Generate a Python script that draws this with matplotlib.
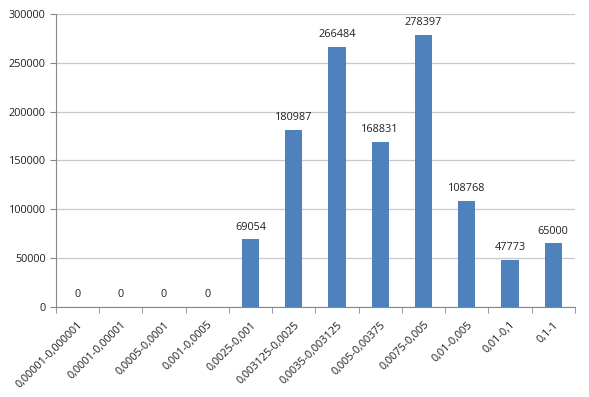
import matplotlib.pyplot as plt
import numpy as np

categories = ['0,00001-0,000001', '0,0001-0,00001', '0,0005-0,0001', '0,001-0,0005',
              '0,0025-0,001', '0,003125-0,0025', '0,0035-0,003125', '0,005-0,00375',
              '0,0075-0,005', '0,01-0,005', '0,01-0,1', '0,1-1']
values = [0, 0, 0, 0, 69054, 180987, 266484, 168831, 278397, 108768, 47773, 65000]

plt.rcParams['font.family'] = ['Open Sans', 'DejaVu Sans']

fig = plt.figure(figsize=(5.89, 3.97), dpi=100)
ax = fig.add_axes([0.095, 0.227, 0.881, 0.738])

x = np.arange(len(categories))
ax.bar(x, values, width=0.4, color='#4F81BD', zorder=3)
for xi, v in zip(x, values):
    ax.text(xi, v + 7000, str(v), ha='center', va='bottom', fontsize=7.8, color='#202020')

ax.set_xlim(-0.5, len(categories) - 0.5)
ax.set_ylim(0, 300000)
ax.set_yticks(range(0, 300001, 50000))
ax.yaxis.grid(True, color='#C8C8C8', linewidth=0.9, zorder=0)
ax.tick_params(axis='y', labelsize=7.8, colors='#868686', labelcolor='#202020', length=4)

ax.set_xticks(x)
ax.set_xticklabels(categories, rotation=45, ha='right', rotation_mode='anchor', fontsize=7.8, color='#202020')
ax.tick_params(axis='x', which='major', length=0, pad=9)
ax.set_xticks(np.arange(-0.5, len(categories), 1), minor=True)
ax.tick_params(axis='x', which='minor', length=4, color='#868686')

for side in ['top', 'right']:
    ax.spines[side].set_visible(False)
for side in ['left', 'bottom']:
    ax.spines[side].set_color('#868686')

fig.savefig('out.png', dpi=100)
